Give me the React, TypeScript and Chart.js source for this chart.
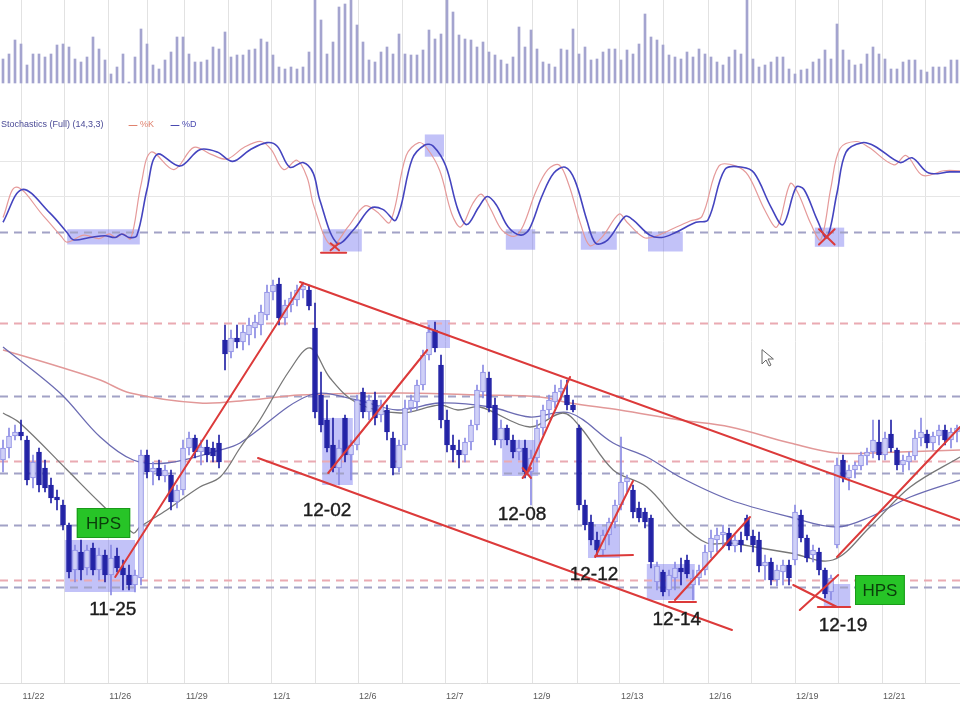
import React, { useEffect, useRef } from 'react';
import { Chart, registerables } from 'chart.js';

Chart.register(...registerables);

// ---------- x axis: day boundaries (bar index units) and their date labels ----------
const dayStarts = [3.1, 10.3, 17.55, 24, 30.33, 37.5, 44.83, 52, 59.17, 66.5, 73.67, 80.83, 88.17, 95.67, 102.83, 110, 117.5, 124.83, 132, 139.17, 146.5, 153.67];
const dayLabels = ['11/22', '', '11/26', '', '11/29', '', '12/1', '', '12/6', '', '12/7', '', '12/9', '', '12/13', '', '12/16', '', '12/19', '', '12/21', ''];

// ---------- volume ----------
const volume = [
  24, 29, 43, 39, 18, 29, 29, 26, 29, 38,
  39, 36, 24, 21, 26, 46, 34, 23, 9, 16,
  29, 1, 26, 54, 39, 18, 14, 23, 31, 46,
  46, 29, 21, 21, 23, 36, 34, 51, 26, 28,
  28, 33, 34, 44, 41, 28, 16, 14, 16, 14,
  16, 31, 90, 63, 29, 41, 76, 79, 85, 58,
  41, 23, 21, 31, 36, 29, 49, 29, 28, 28,
  33, 53, 44, 49, 90, 71, 48, 44, 43, 36,
  41, 31, 28, 23, 19, 26, 56, 36, 53, 34,
  21, 19, 16, 34, 33, 54, 29, 36, 23, 24,
  31, 34, 34, 23, 33, 29, 39, 69, 46, 43,
  38, 28, 26, 24, 31, 26, 34, 29, 26, 21,
  18, 26, 33, 29, 90, 24, 16, 18, 21, 26,
  26, 14, 9, 13, 14, 21, 24, 33, 24, 59,
  33, 23, 18, 19, 29, 36, 29, 24, 14, 14,
  21, 23, 23, 13, 11, 16, 16, 16, 23, 23,
];

// ---------- price candles ----------
const opens = [
  240, 252, 264, 268, 260, 222, 248, 232, 215, 203,
  195, 175, 130, 148, 132, 152, 130, 145, 125, 144,
  132, 125, 115, 122, 245, 228, 232, 224, 225, 198,
  210, 252, 262, 248, 253, 252, 257, 360, 348, 362,
  358, 365, 372, 375, 385, 408, 416, 382, 395, 400,
  410, 410, 372, 305, 280, 255, 232, 282, 245, 255,
  308, 288, 300, 285, 290, 262, 232, 255, 292, 298,
  315, 345, 370, 335, 280, 255, 250, 245, 258, 275,
  308, 322, 295, 260, 272, 260, 248, 252, 228, 242,
  272, 290, 298, 308, 305, 295, 272, 195, 178, 160,
  150, 165, 178, 195, 218, 210, 192, 188, 182, 118,
  128, 110, 122, 132, 140, 115, 122, 130, 148, 160,
  165, 167, 154, 160, 182, 164, 160, 134, 138, 120,
  128, 135, 140, 185, 162, 145, 148, 130, 108, 155,
  240, 222, 230, 234, 244, 248, 258, 245, 266, 250,
  235, 238, 244, 262, 266, 257, 264, 270, 260, 268,
];
const highs = [
  260, 272, 275, 280, 264, 245, 252, 240, 222, 210,
  200, 177, 155, 160, 155, 157, 152, 150, 155, 152,
  140, 135, 130, 250, 250, 238, 240, 235, 230, 215,
  260, 268, 265, 260, 260, 258, 265, 375, 370, 375,
  375, 382, 385, 395, 415, 420, 422, 400, 408, 415,
  418, 415, 397, 328, 300, 282, 260, 285, 260, 305,
  312, 305, 308, 300, 295, 268, 260, 300, 305, 320,
  350, 375, 378, 345, 290, 265, 260, 262, 280, 315,
  335, 328, 302, 280, 275, 265, 260, 260, 250, 280,
  295, 305, 315, 320, 320, 300, 275, 200, 185, 168,
  170, 182, 200, 263, 225, 215, 198, 192, 185, 138,
  130, 130, 138, 142, 145, 130, 135, 155, 170, 172,
  175, 172, 165, 168, 185, 170, 168, 145, 142, 135,
  140, 140, 195, 190, 165, 155, 152, 132, 125, 242,
  245, 235, 238, 248, 252, 280, 280, 268, 280, 252,
  245, 248, 270, 282, 270, 268, 275, 275, 272, 275,
];
const lows = [
  228, 242, 260, 260, 215, 212, 208, 208, 197, 190,
  170, 122, 118, 120, 125, 125, 120, 118, 105, 128,
  110, 110, 108, 115, 222, 215, 220, 218, 190, 192,
  205, 245, 242, 235, 238, 238, 232, 330, 342, 352,
  350, 355, 362, 365, 380, 400, 375, 375, 388, 394,
  402, 390, 282, 268, 248, 228, 215, 238, 220, 250,
  282, 280, 275, 278, 260, 225, 228, 250, 288, 290,
  310, 340, 348, 272, 248, 238, 232, 238, 250, 270,
  302, 288, 255, 252, 255, 242, 240, 222, 195, 238,
  265, 282, 292, 300, 290, 288, 190, 170, 155, 144,
  145, 155, 172, 190, 208, 182, 178, 172, 132, 110,
  104, 104, 110, 115, 122, 100, 115, 125, 142, 148,
  152, 150, 148, 148, 160, 148, 128, 120, 115, 114,
  115, 115, 135, 158, 138, 138, 125, 102, 100, 152,
  218, 210, 222, 230, 235, 242, 240, 240, 248, 230,
  228, 230, 240, 254, 252, 250, 255, 255, 252, 258,
];
const closes = [
  252, 264, 268, 264, 220, 238, 215, 212, 202, 200,
  175, 128, 150, 130, 150, 130, 145, 125, 142, 132,
  125, 115, 125, 245, 228, 232, 224, 230, 198, 210,
  252, 262, 248, 253, 245, 244, 238, 346, 362, 358,
  368, 375, 378, 388, 408, 415, 382, 395, 402, 410,
  414, 394, 288, 275, 252, 232, 252, 245, 255, 300,
  288, 300, 282, 295, 268, 232, 255, 292, 300, 315,
  345, 368, 352, 280, 255, 250, 245, 258, 275, 310,
  328, 292, 260, 272, 260, 248, 252, 228, 242, 272,
  290, 300, 308, 312, 295, 290, 195, 175, 160, 150,
  165, 178, 195, 218, 222, 188, 182, 178, 138, 134,
  108, 125, 132, 128, 126, 122, 130, 148, 162, 165,
  168, 154, 160, 155, 164, 155, 134, 138, 120, 130,
  135, 122, 188, 162, 142, 150, 130, 106, 122, 235,
  222, 230, 235, 245, 248, 260, 245, 262, 252, 235,
  240, 244, 262, 268, 257, 264, 270, 260, 268, 272,
];

// ---------- moving averages: [bar index, price] ----------
const maFast = [[0, 287], [2.8, 277], [10.7, 230], [16.2, 197], [21.7, 167], [22.8, 173], [27.3, 190], [32.8, 213], [36.2, 223], [39.5, 252], [42.8, 280], [47.8, 330], [51.2, 352], [54.5, 322], [59, 297], [66.2, 287], [72.8, 295], [75.8, 290], [79.5, 293], [87.8, 273], [93.3, 287], [96.2, 273], [101.7, 230], [107.3, 213], [112.8, 177], [117.3, 157], [121.2, 157], [126.2, 152], [131.2, 147], [138.3, 140], [144.5, 173], [151.2, 213], [159.5, 243]];
const maMid = [[0, 353], [9.5, 307], [16.2, 263], [21.7, 240], [27.3, 237], [36.2, 250], [39.5, 257], [51.2, 305], [59, 300], [65.7, 290], [72.8, 297], [81.2, 293], [87.8, 283], [94.5, 287], [101.7, 257], [107.3, 243], [112.8, 223], [121.2, 200], [131.2, 183], [139, 173], [144.5, 183], [151.2, 203], [159.5, 220]];
const maSlow = [[0, 350], [9.5, 333], [16.2, 320], [21.2, 307], [32.8, 297], [41.2, 300], [49.5, 305], [66.2, 307], [79.5, 305], [89.5, 303], [94.5, 297], [102.8, 290], [112.8, 280], [121.2, 273], [131.2, 257], [139, 247], [149.5, 248], [159.5, 250]];

// ---------- stochastics (14,3,3): [bar index, value] ----------
const stochK = [[0, 32], [2.2, 58], [6.8, 33], [9.7, 16], [10.7, 11], [13.5, 17], [16, 14], [17.7, 18], [18.8, 15], [20, 18], [21.3, 14], [23, 60], [24.7, 88], [28.5, 73], [31.8, 92], [34.7, 86], [37.3, 82], [40.2, 92], [43, 97], [44.7, 90], [46.8, 73], [49, 81], [50.7, 66], [51.8, 42], [54.7, 8], [57.5, 24], [60.3, 42], [62.3, 37], [64.5, 28], [67.2, 85], [69.3, 96], [70.7, 91], [72.8, 72], [74.8, 35], [76.3, 24], [78.3, 44], [79.7, 52], [81.2, 40], [83.2, 21], [85.3, 16], [86.7, 25], [88.8, 54], [90.8, 73], [92.7, 77], [94.3, 60], [96.3, 26], [97.8, 8], [99.8, 15], [102.7, 35], [104, 28], [106.8, 15], [108.8, 16], [111, 21], [114.5, 29], [116.5, 33], [119.3, 76], [122.2, 76], [124.2, 68], [127, 38], [129, 24], [131.2, 61], [132.5, 53], [134.7, 26], [136.3, 13], [138, 58], [139.5, 91], [142.2, 97], [144.3, 92], [148.5, 77], [150.5, 85], [153.3, 68], [156.8, 72], [159.5, 72]];
const stochD = [[0, 28], [3.2, 56], [7.8, 36], [10.7, 19], [11.7, 13], [14.5, 15], [17, 16.5], [18.7, 15], [19.8, 18], [21, 15], [22.3, 16.5], [24, 56], [25.7, 86], [29.5, 76], [32.8, 90], [35.7, 88], [38.3, 80], [41.2, 90], [44, 96], [45.7, 93], [47.8, 75], [50, 79], [51.7, 70], [52.8, 47], [55.7, 10], [58.5, 22], [61.3, 40], [63.3, 39], [65.5, 30], [68.2, 82], [70.3, 94], [71.7, 93], [73.8, 76], [75.8, 39], [77.3, 26], [79.3, 41], [80.7, 50], [82.2, 43], [84.2, 24], [86.3, 17], [87.7, 22], [89.8, 50], [91.8, 70], [93.7, 75], [95.3, 64], [97.3, 30], [98.8, 10], [100.8, 13], [103.7, 33], [105, 30], [107.8, 17], [109.8, 15], [112, 19], [115.5, 28], [117.5, 30], [120.3, 73], [123.2, 75], [125.2, 70], [128, 41], [130, 26], [132.2, 58], [133.5, 56], [135.7, 30], [137.3, 15], [139, 53], [140.5, 88], [143.2, 96], [145.3, 93], [149.5, 79], [151.5, 83], [154.3, 70], [157.8, 71], [159.5, 71]];
const stochGrid = [50, 80];
const stochLevel = 20;

// ---------- annotations (data units) ----------
const pinkLevels = [377, 239, 120];
const blueLevels = [304, 227, 175, 113];
// [index from, index to, price top, price bottom]
const priceShades = [[10.3, 22, 160, 108], [53.2, 58.3, 282, 215], [70.7, 74.5, 380, 352], [83.2, 89.2, 260, 224], [97.5, 102.8, 176, 142], [107.3, 115.3, 136, 100], [136.8, 141.2, 116, 94]];
// [index from, index to, value top, value bottom]
const stochShades = [[10.7, 22.8, 22, 9], [53.3, 59.8, 22, 3], [70.3, 73.5, 103, 84], [83.8, 88.7, 22, 4.5], [96.3, 102.3, 20, 4.5], [107.5, 113.3, 20, 3], [135.3, 140.2, 23.4, 7]];
// [index, price, index, price]
const trendLines = [
  [49.5, 418, 159.5, 180], [42.5, 242, 121.5, 70], [18.7, 123, 50, 417], [54.2, 227, 70.7, 350],
  [87.3, 227, 94.5, 323], [98.7, 143, 105, 219], [98.7, 144, 105, 145], [112, 100, 124.5, 183],
  [111, 98, 115.5, 98], [131.7, 115, 139, 93], [132.8, 90, 139.2, 125], [135.8, 93, 141.2, 93],
  [139, 143, 159.5, 273], [86.6, 222, 88, 232], [86.6, 232, 88, 222],
];
// [index, value, index, value]
const stochMarks = [[53, 2, 57.2, 2], [54.6, 4, 56, 10], [54.6, 10, 56, 4], [136, 22, 138.6, 9], [136, 9, 138.6, 22]];
const dateNotes = [[18.3, 90, '11-25'], [54, 189, '12-02'], [86.5, 185, '12-08'], [98.5, 125, '12-12'], [112.3, 80, '12-14'], [140, 74, '12-19']];
const hpsNotes = [[12.3, 21.2, 192, 162], [142, 150.3, 125, 95]];
const cursorAt = [126.5, 350];

const FONT = '"Liberation Sans", Arial, Helvetica, sans-serif';
const UP_FILL = '#cfd0f7';
const UP_LINE = '#8a8ae4';
const DOWN = '#2323a6';

const overlay = {
  id: 'overlay',
  beforeDatasetsDraw(chart: any) {
    const { ctx, chartArea, scales } = chart;
    const x = scales.x, yP = scales.yPrice, yS = scales.yStoch;
    ctx.save();
    ctx.fillStyle = 'rgba(110,110,238,0.42)';
    for (const [i0, i1, t, b] of priceShades) {
      const x0 = x.getPixelForValue(i0), x1 = x.getPixelForValue(i1);
      const y0 = yP.getPixelForValue(t), y1 = yP.getPixelForValue(b);
      ctx.fillRect(x0, y0, x1 - x0, y1 - y0);
    }
    for (const [i0, i1, t, b] of stochShades) {
      const x0 = x.getPixelForValue(i0), x1 = x.getPixelForValue(i1);
      const y0 = yS.getPixelForValue(t), y1 = yS.getPixelForValue(b);
      ctx.fillRect(x0, y0, x1 - x0, y1 - y0);
    }
    ctx.lineWidth = 2;
    ctx.setLineDash([8, 6]);
    const hline = (yy: number, color: string) => {
      ctx.strokeStyle = color;
      ctx.beginPath();
      ctx.moveTo(chartArea.left, Math.round(yy) + 0.5);
      ctx.lineTo(chartArea.right, Math.round(yy) + 0.5);
      ctx.stroke();
    };
    pinkLevels.forEach((p) => hline(yP.getPixelForValue(p), '#eaaab2'));
    blueLevels.forEach((p) => hline(yP.getPixelForValue(p), '#a2a2c6'));
    hline(yS.getPixelForValue(stochLevel), '#a2a2c6');
    ctx.restore();
  },
  afterDatasetsDraw(chart: any) {
    const { ctx, chartArea, scales } = chart;
    const x = scales.x, yP = scales.yPrice, yS = scales.yStoch;
    ctx.save();
    ctx.beginPath();
    ctx.rect(chartArea.left, chartArea.top, chartArea.right - chartArea.left, chartArea.bottom - chartArea.top);
    ctx.clip();
    ctx.strokeStyle = '#dc3a3a';
    ctx.lineWidth = 2;
    ctx.lineCap = 'round';
    for (const [i0, p0, i1, p1] of trendLines) {
      ctx.beginPath();
      ctx.moveTo(x.getPixelForValue(i0), yP.getPixelForValue(p0));
      ctx.lineTo(x.getPixelForValue(i1), yP.getPixelForValue(p1));
      ctx.stroke();
    }
    for (const [i0, v0, i1, v1] of stochMarks) {
      ctx.beginPath();
      ctx.moveTo(x.getPixelForValue(i0), yS.getPixelForValue(v0));
      ctx.lineTo(x.getPixelForValue(i1), yS.getPixelForValue(v1));
      ctx.stroke();
    }
    // HPS boxes
    for (const [i0, i1, t, b] of hpsNotes) {
      const x0 = x.getPixelForValue(i0), x1 = x.getPixelForValue(i1);
      const y0 = yP.getPixelForValue(t), y1 = yP.getPixelForValue(b);
      ctx.fillStyle = '#27c427';
      ctx.fillRect(x0, y0, x1 - x0, y1 - y0);
      ctx.strokeStyle = '#1a9a1a';
      ctx.lineWidth = 1;
      ctx.strokeRect(x0 + 0.5, y0 + 0.5, x1 - x0 - 1, y1 - y0 - 1);
      ctx.fillStyle = '#0b3d0b';
      ctx.font = `17px ${FONT}`;
      ctx.textAlign = 'center';
      ctx.textBaseline = 'middle';
      ctx.fillText('HPS', (x0 + x1) / 2, (y0 + y1) / 2 + 1);
    }
    // date notes
    ctx.fillStyle = '#1c1c1c';
    ctx.strokeStyle = '#1c1c1c';
    ctx.lineWidth = 0.4;
    ctx.font = `19px ${FONT}`;
    ctx.textAlign = 'center';
    ctx.textBaseline = 'middle';
    for (const [i, p, t] of dateNotes) {
      const tx = x.getPixelForValue(i as number), tyy = yP.getPixelForValue(p as number);
      ctx.fillText(t as string, tx, tyy);
      ctx.strokeText(t as string, tx, tyy);
    }
    // mouse pointer
    const cx = x.getPixelForValue(cursorAt[0]);
    const cy = yP.getPixelForValue(cursorAt[1]);
    ctx.beginPath();
    ctx.moveTo(cx, cy);
    ctx.lineTo(cx, cy + 14);
    ctx.lineTo(cx + 4, cy + 10);
    ctx.lineTo(cx + 7, cy + 16);
    ctx.lineTo(cx + 9, cy + 15);
    ctx.lineTo(cx + 6, cy + 9);
    ctx.lineTo(cx + 11, cy + 9);
    ctx.closePath();
    ctx.fillStyle = '#ffffff';
    ctx.fill();
    ctx.strokeStyle = '#666666';
    ctx.lineWidth = 1;
    ctx.stroke();
    // stochastic caption
    const ty = yS.top + 35;
    ctx.font = `9px ${FONT}`;
    ctx.textAlign = 'left';
    ctx.textBaseline = 'middle';
    ctx.fillStyle = '#4a4a96';
    ctx.fillText('Stochastics (Full) (14,3,3)', 1, ty);
    ctx.strokeStyle = '#e0826e';
    ctx.lineWidth = 1;
    ctx.beginPath(); ctx.moveTo(129, ty + 0.5); ctx.lineTo(137, ty + 0.5); ctx.stroke();
    ctx.fillStyle = '#e0826e';
    ctx.fillText('%K', 140, ty);
    ctx.strokeStyle = '#4a4ab0';
    ctx.beginPath(); ctx.moveTo(171, ty + 0.5); ctx.lineTo(179, ty + 0.5); ctx.stroke();
    ctx.fillStyle = '#4a4ab0';
    ctx.fillText('%D', 182, ty);
    ctx.restore();
  },
};

const idx = opens.map((_, i) => i);
const isUp = opens.map((o, i) => closes[i] >= o);

export default function App() {
  const ref = useRef<HTMLCanvasElement>(null);
  useEffect(() => {
    const canvas = ref.current;
    if (!canvas) return;
    const hiddenY = (extra: any) => ({
      type: 'linear',
      position: 'left',
      stack: 'panes',
      display: true,
      ticks: { display: false },
      grid: { display: false, drawTicks: false },
      border: { display: false },
      bounds: 'data',
      ...extra,
    });
    const chart = new Chart(canvas, {
      type: 'bar',
      data: {
        datasets: [
          {
            type: 'bar', label: 'bodies', xAxisID: 'x', yAxisID: 'yPrice', order: 0, grouped: false,
            data: idx.map((i) => ({ x: i, y: [opens[i], closes[i]] })),
            backgroundColor: isUp.map((u) => (u ? UP_FILL : DOWN)),
            borderColor: isUp.map((u) => (u ? UP_LINE : DOWN)),
            borderWidth: 1, borderSkipped: false, barThickness: 5,
          },
          {
            type: 'bar', label: 'wicks', xAxisID: 'x', yAxisID: 'yPrice', order: 1, grouped: false,
            data: idx.map((i) => ({ x: i, y: [lows[i], highs[i]] })),
            backgroundColor: isUp.map((u) => (u ? UP_LINE : DOWN)),
            barThickness: 1,
          },
          {
            type: 'line', label: 'MA fast', xAxisID: 'x', yAxisID: 'yPrice', order: 2,
            data: maFast.map(([i, v]) => ({ x: i, y: v })),
            borderColor: '#777777', borderWidth: 1.3, pointRadius: 0, tension: 0.35, fill: false,
          },
          {
            type: 'line', label: 'MA mid', xAxisID: 'x', yAxisID: 'yPrice', order: 2,
            data: maMid.map(([i, v]) => ({ x: i, y: v })),
            borderColor: '#6b6bb2', borderWidth: 1.3, pointRadius: 0, tension: 0.35, fill: false,
          },
          {
            type: 'line', label: 'MA slow', xAxisID: 'x', yAxisID: 'yPrice', order: 2,
            data: maSlow.map(([i, v]) => ({ x: i, y: v })),
            borderColor: '#e29898', borderWidth: 1.5, pointRadius: 0, tension: 0.35, fill: false,
          },
          {
            type: 'line', label: '%K', xAxisID: 'x', yAxisID: 'yStoch', order: 1,
            data: stochK.map(([i, v]) => ({ x: i, y: v })),
            borderColor: '#e59a9a', borderWidth: 1.2, pointRadius: 0, tension: 0.35, fill: false,
          },
          {
            type: 'line', label: '%D', xAxisID: 'x', yAxisID: 'yStoch', order: 0,
            data: stochD.map(([i, v]) => ({ x: i, y: v })),
            borderColor: '#4444bf', borderWidth: 1.6, pointRadius: 0, tension: 0.35, fill: false,
          },
          {
            type: 'bar', label: 'Volume', xAxisID: 'x', yAxisID: 'yVol', order: 3, grouped: false,
            data: idx.map((i) => ({ x: i, y: volume[i] })),
            backgroundColor: '#a4a4cf', barThickness: 2,
          },
        ],
      } as any,
      options: {
        responsive: false,
        animation: false,
        devicePixelRatio: 1,
        layout: { padding: 0 },
        plugins: { legend: { display: false }, tooltip: { enabled: false } },
        events: [],
        scales: {
          x: {
            type: 'linear', position: 'bottom', min: -0.5, max: 159.5, bounds: 'data', offset: false,
            afterBuildTicks: (s: any) => { s.ticks = dayStarts.map((v) => ({ value: v })); },
            afterFit: (s: any) => { s.height = 37; },
            grid: { color: '#e2e2e2', lineWidth: 1, drawTicks: false, offset: false },
            border: { display: true, color: '#dcdcdc' },
            ticks: {
              autoSkip: false, maxRotation: 0, minRotation: 0, align: 'start', padding: 8, labelOffset: 1,
              color: '#5a5a5a', font: { family: FONT, size: 9 },
              callback: (_v: any, i: number) => dayLabels[i] ?? '',
            },
          },
          yVol: hiddenY({ weight: 3, stackWeight: 90, min: -7, max: 83 }),
          yStoch: hiddenY({
            weight: 2, stackWeight: 165, min: 0, max: 141,
            grid: { display: true, drawTicks: false, color: '#e6e6e6' },
            afterBuildTicks: (s: any) => { s.ticks = stochGrid.map((v) => ({ value: v })); },
          }),
          yPrice: hiddenY({ weight: 1, stackWeight: 428, min: 17, max: 445 }),
        } as any,
      },
      plugins: [overlay],
    } as any);
    return () => chart.destroy();
  }, []);
  return (
    <div style={{ position: 'fixed', left: 0, top: 0, width: 960, height: 720, background: '#ffffff' }}>
      <canvas ref={ref} width={960} height={720} style={{ display: 'block', width: 960, height: 720 }} />
    </div>
  );
}
